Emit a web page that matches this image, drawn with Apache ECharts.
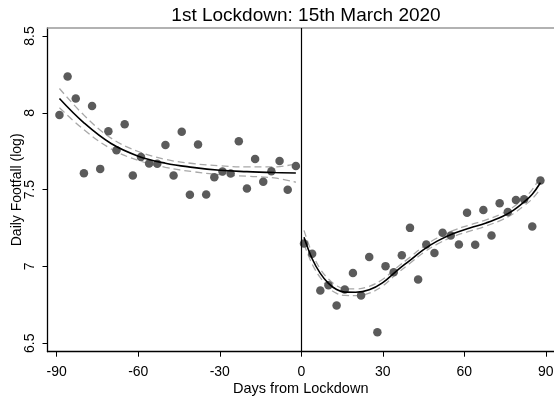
<!DOCTYPE html>
<html>
<head>
<meta charset="utf-8">
<script src="https://cdn.jsdelivr.net/npm/echarts@6/dist/echarts.min.js"></script>
<style>html,body{margin:0;padding:0;background:#fff}#c{width:554px;height:398px}</style>
</head>
<body>
<div id="c"></div>
<script>
// Tick labels
const xTicks = [-90, -60, -30, 0, 30, 60, 90];
const yTicks = [6.5, 7, 7.5, 8, 8.5];

// Scatter: before lockdown
const preX = [-89,-86,-83,-80,-77,-74,-71,-68,-65,-62,-59,-56,-53,-50,-47,-44,-41,-38,-35,-32,-29,-26,-23,-20,-17,-14,-11,-8,-5,-2];
const preY = [7.985,8.236,8.093,7.607,8.045,7.635,7.880,7.757,7.926,7.592,7.713,7.670,7.668,7.791,7.592,7.876,7.466,7.794,7.468,7.581,7.618,7.605,7.815,7.507,7.700,7.551,7.620,7.687,7.499,7.653];

// Scatter: after lockdown
const postX = [1,4,7,10,13,16,19,22,25,28,31,34,37,40,43,46,49,52,55,58,61,64,67,70,73,76,79,82,85,88];
const postY = [7.149,7.082,6.843,6.878,6.745,6.850,6.958,6.811,7.062,6.572,7.002,6.962,7.073,7.251,6.915,7.143,7.088,7.219,7.201,7.143,7.349,7.141,7.368,7.201,7.412,7.355,7.433,7.438,7.260,7.559];

// Fitted curve and confidence band: before lockdown
const preFitX   = [-89,  -80,  -70,  -60,  -50,  -40,  -30,  -20,  -10,  -2];
const preFitY   = [8.093,7.935,7.800,7.718,7.672,7.645,7.626,7.617,7.611,7.608];
const preUpper  = [8.158,7.985,7.835,7.748,7.697,7.670,7.655,7.648,7.648,7.668];
const preLower  = [8.033,7.890,7.765,7.690,7.645,7.617,7.598,7.587,7.576,7.548];

// Fitted curve and confidence band: after lockdown
const postFitX  = [1,   4,    7,    10,   13,   16,   20,   25,   30,   35,   40,   45,   50,   56,   62,   68,   74,   78,   82,   85,   88];
const postFitY  = [7.190,7.050,6.955,6.890,6.850,6.833,6.832,6.848,6.895,6.970,7.040,7.110,7.165,7.215,7.250,7.283,7.325,7.365,7.420,7.470,7.545];
const postUpper = [7.235,7.085,6.983,6.918,6.875,6.855,6.854,6.870,6.917,6.990,7.060,7.130,7.185,7.235,7.270,7.303,7.345,7.387,7.445,7.500,7.585];
const postLower = [7.145,7.015,6.927,6.862,6.825,6.811,6.810,6.826,6.873,6.950,7.020,7.090,7.145,7.195,7.230,7.263,7.305,7.343,7.395,7.440,7.505];

const zip = (a, b) => a.map((v, i) => [v, b[i]]);
const FONT = 'Liberation Sans, Arial, sans-serif';

const lineSeries = (data, color, width, dashed, z) => ({
  type: 'line', data, smooth: 0.4, showSymbol: false, symbol: 'none', silent: true, z,
  lineStyle: { color, width, type: dashed ? [7, 4] : 'solid' }
});

const chart = echarts.init(document.getElementById('c'), null, { renderer: 'canvas' });
chart.setOption({
  animation: false,
  backgroundColor: '#fff',
  title: {
    text: '1st Lockdown: 15th March 2020', left: 301, top: 1, textAlign: 'center',
    textStyle: { fontFamily: FONT, fontSize: 19, fontWeight: 'normal', color: '#000' }
  },
  grid: { left: 47.5, right: 0, top: 28, bottom: 46.3, containLabel: false, outerBoundsMode: 'none' },
  xAxis: [{
    type: 'value', min: -93.4, max: 93.0,
    name: 'Days from Lockdown', nameLocation: 'middle', nameGap: 30, nameMoveOverlap: false,
    nameTextStyle: { fontFamily: FONT, fontSize: 14.5, color: '#000' },
    axisLine: { show: true, onZero: false, lineStyle: { color: '#000', width: 1.3 } },
    axisTick: { show: true, length: 5, customValues: xTicks, lineStyle: { color: '#000', width: 1 } },
    axisLabel: { customValues: xTicks, fontFamily: FONT, fontSize: 14, color: '#000', margin: 13 },
    splitLine: { show: false }
  }, {
    type: 'value', position: 'top', min: -93.4, max: 93.0,
    axisLine: { show: true, onZero: false, lineStyle: { color: '#999', width: 1.6 } },
    axisTick: { show: false }, axisLabel: { show: false }, splitLine: { show: false }
  }],
  yAxis: {
    type: 'value', min: 6.445, max: 8.552,
    name: 'Daily Footfall (log)', nameLocation: 'middle', nameGap: 23, nameRotate: 90, nameMoveOverlap: false,
    nameTextStyle: { fontFamily: FONT, fontSize: 14, color: '#000' },
    axisLine: { show: true, onZero: false, lineStyle: { color: '#000', width: 1.3 } },
    axisTick: { show: true, length: 5, customValues: yTicks, lineStyle: { color: '#000', width: 1 } },
    axisLabel: { customValues: yTicks, rotate: 90, fontFamily: FONT, fontSize: 14, color: '#000', margin: 10,
      formatter: v => String(v) },
    splitLine: { show: false }
  },
  series: [
    lineSeries(zip(preFitX, preUpper), '#a8a8a8', 1.3, true, 2),
    lineSeries(zip(preFitX, preLower), '#a8a8a8', 1.3, true, 2),
    lineSeries(zip(postFitX, postUpper), '#a8a8a8', 1.3, true, 2),
    lineSeries(zip(postFitX, postLower), '#a8a8a8', 1.3, true, 2),
    {
      type: 'scatter', data: zip(preX, preY), symbol: 'circle', symbolSize: 8.5, z: 3,
      itemStyle: { color: '#5b5b5b', opacity: 1 },
      markLine: {
        silent: true, symbol: 'none', label: { show: false },
        lineStyle: { color: '#000', width: 1.2, type: 'solid' },
        data: [{ xAxis: 0 }]
      }
    },
    { type: 'scatter', data: zip(postX, postY), symbol: 'circle', symbolSize: 8.5, z: 3,
      itemStyle: { color: '#5b5b5b', opacity: 1 } },
    lineSeries(zip(preFitX, preFitY), '#000', 1.6, false, 4),
    lineSeries(zip(postFitX, postFitY), '#000', 1.6, false, 4)
  ]
});
</script>
</body>
</html>
